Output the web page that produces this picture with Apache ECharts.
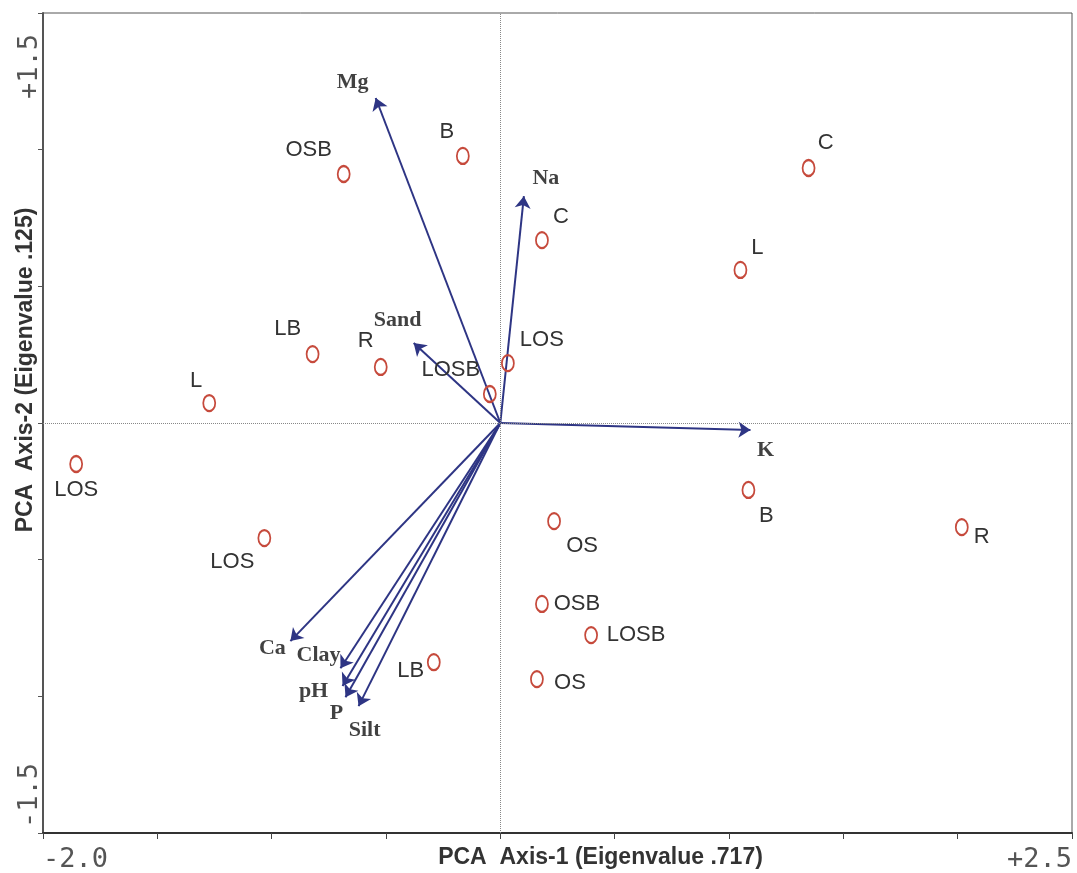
<!DOCTYPE html>
<html>
<head>
<meta charset="utf-8">
<script src="https://cdn.jsdelivr.net/npm/echarts@6/dist/echarts.min.js"></script>
<style>
html,body{margin:0;padding:0;background:#fff;}
#chart{width:1077px;height:873px;}
</style>
</head>
<body>
<div id="chart"></div>
<script>
// ---- Sample (site) scores ----
const siteNames = ['OSB','B','C','C','L','LB','R','L','LOS','LOSB','LOS','LOS','OS','B','R','OSB','LOSB','LB','OS'];
const siteX = [-0.685,-0.164,0.182,1.348,1.050,-0.821,-0.523,-1.273,0.033,-0.046,-1.855,-1.032,0.235,1.085,2.018,0.182,0.397,-0.291,0.160];
const siteY = [0.911,0.977,0.669,0.933,0.560,0.252,0.205,0.073,0.219,0.106,-0.150,-0.421,-0.359,-0.245,-0.381,-0.662,-0.776,-0.875,-0.937];

// ---- Environmental variable vectors ----
const varNames = ['Mg','Na','Sand','K','Ca','Clay','pH','P','Silt'];
const varX = [-0.545,0.103,-0.379,1.094,-0.918,-0.699,-0.690,-0.677,-0.620];
const varY = [1.189,0.830,0.293,-0.026,-0.798,-0.897,-0.962,-1.003,-1.036];

// ---- Axis end tick labels ----
const xEndLabels = ['-2.0','+2.5'];
const yEndLabels = ['-1.5','+1.5'];
const xTitle = 'PCA  Axis-1 (Eigenvalue .717)';
const yTitle = 'PCA  Axis-2 (Eigenvalue .125)';

// ---- Label placement (style, pixel offsets of label centre from mark) ----
const siteLabelOffset = [[-35,-24],[-16,-24],[19,-23],[17,-25],[17,-22],[-25,-25],[-15,-26],[-13,-22],[34,-23],[-39,-24],[0,26],[-32,24],[28,25],[18,26],[20,10],[35,0],[45,0],[-23,9],[33,4]];
const varLabelOffset = [[-23,-16],[22,-18],[-16,-23],[15,20],[-18,7],[-22,-13],[-29,5],[-9,16],[6,24]];

const X_MIN=-2, X_MAX=2.5, Y_MIN=-1.5, Y_MAX=1.5;

const siteData = siteNames.map((n,i)=>({
  name:n, value:[siteX[i],siteY[i]],
  label:{offset:siteLabelOffset[i]}
}));
const vecLines = varNames.map((n,i)=>({name:n, coords:[[0,0],[varX[i],varY[i]]]}));
const vecLabels = varNames.map((n,i)=>({
  name:n, value:[varX[i],varY[i]],
  label:{offset:varLabelOffset[i]}
}));

const tickFont = {fontFamily:'DejaVu Sans Mono',fontSize:27,color:'#555'};

const chart = echarts.init(document.getElementById('chart'), null, {renderer:'canvas'});
chart.setOption({
  backgroundColor:'#ffffff',
  animation:false,
  grid:{left:43,right:5,top:13,bottom:40,show:true,borderColor:'#555',borderWidth:1,outerBoundsMode:'none'},
  xAxis:{
    type:'value',min:X_MIN,max:X_MAX,interval:0.5,
    splitLine:{show:false},
    axisLine:{onZero:false,lineStyle:{color:'#333',width:2}},
    axisTick:{show:true,length:6,lineStyle:{color:'#444',width:1}},
    axisLabel:Object.assign({
      showMinLabel:true,showMaxLabel:true,
      alignMinLabel:'left',alignMaxLabel:'right',
      margin:13,
      formatter:(v)=> v===X_MIN?xEndLabels[0]:(v===X_MAX?xEndLabels[1]:'')
    },tickFont),
    name:xTitle,nameLocation:'middle',nameGap:13,nameMoveOverlap:false,
    nameTextStyle:{fontFamily:'Liberation Sans',fontWeight:'bold',fontSize:23,color:'#333',padding:[0,0,0,86]}
  },
  yAxis:{
    type:'value',min:Y_MIN,max:Y_MAX,interval:0.5,
    splitLine:{show:false},
    axisLine:{onZero:false,lineStyle:{color:'#555',width:2}},
    axisTick:{show:true,length:5,lineStyle:{color:'#555',width:1}},
    axisLabel:Object.assign({
      showMinLabel:true,showMaxLabel:true,
      rotate:90,
      alignMinLabel:'left',alignMaxLabel:'right',
      margin:0,
      formatter:(v)=> v===Y_MIN?('{lo|'+yEndLabels[0]+'}'):(v===Y_MAX?('{hi|'+yEndLabels[1]+'}'):''),
      rich:{
        lo:Object.assign({padding:[0,0,0,5]},tickFont),
        hi:Object.assign({padding:[0,21,0,0]},tickFont)
      }
    },tickFont),
    name:yTitle,nameLocation:'middle',nameGap:6,nameRotate:90,nameMoveOverlap:false,
    nameTextStyle:{fontFamily:'Liberation Sans',fontWeight:'bold',fontSize:23,color:'#333',padding:[0,0,0,106]}
  },
  series:[
    {
      type:'scatter',name:'zero',data:[],silent:true,
      markLine:{
        silent:true,symbol:['none','none'],label:{show:false},
        lineStyle:{type:'dotted',color:'#888',width:1},
        data:[{xAxis:0},{yAxis:0}]
      }
    },
    {
      type:'lines',coordinateSystem:'cartesian2d',
      symbol:['none','arrow'],symbolSize:12,
      lineStyle:{color:'#2e3584',width:2,opacity:1},
      itemStyle:{color:'#2e3584'},
      data:vecLines,silent:true
    },
    {
      type:'scatter',data:vecLabels,symbolSize:0,silent:true,
      label:{show:true,position:'inside',formatter:'{b}',
        fontFamily:'Liberation Serif',fontWeight:'bold',fontSize:22,color:'#111'}
    },
    {
      type:'scatter',data:siteData,symbol:'circle',symbolSize:[12,16],silent:true,
      itemStyle:{color:'rgba(0,0,0,0)',borderColor:'#c64a3c',borderWidth:2,opacity:1},
      label:{show:true,position:'inside',formatter:'{b}',
        fontFamily:'Liberation Sans',fontSize:22,color:'#333'}
    }
  ]
});
</script>
</body>
</html>
